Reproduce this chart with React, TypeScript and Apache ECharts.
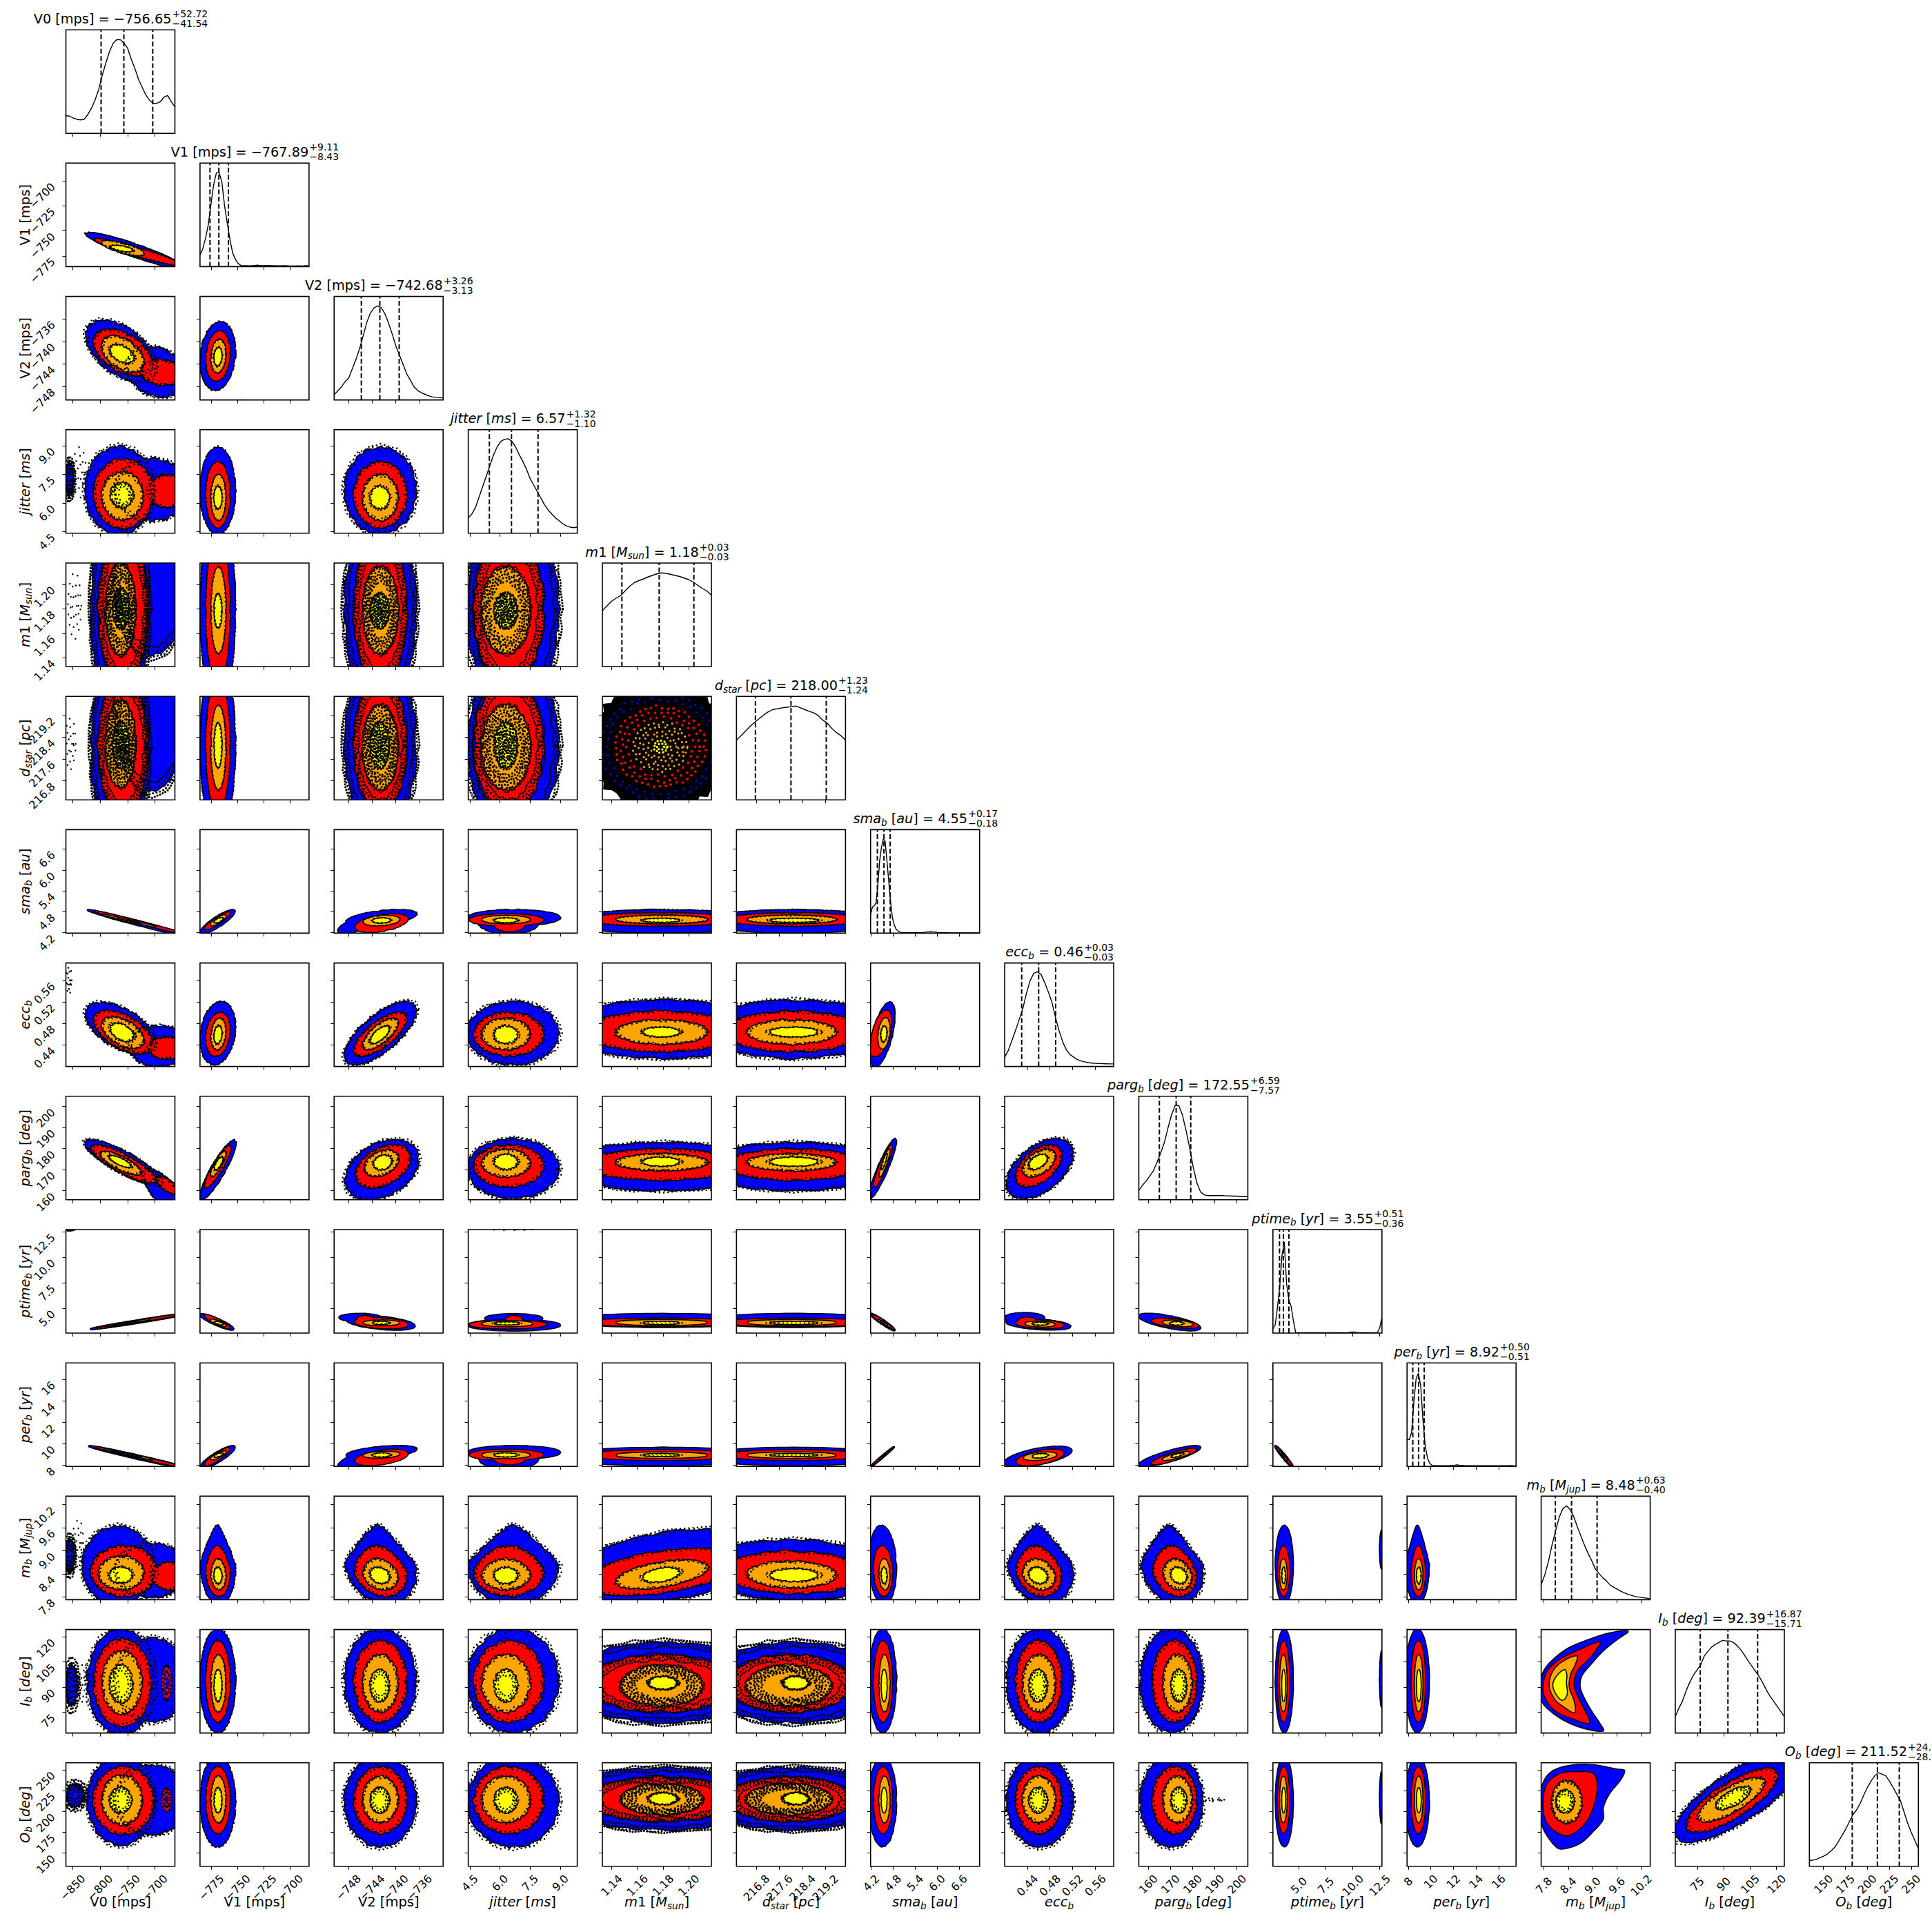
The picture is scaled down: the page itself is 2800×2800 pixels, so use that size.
import React, { useEffect, useRef } from "react";
import * as echarts from "echarts";

// ---------- axes ----------
const rangeV0 = [-862.4, -663.5];
const rangeV1 = [-785.8, -682.2];
const rangeV2 = [-750.4, -732];
const rangeJitter = [4.42, 9.84];
const rangeM1 = [1.1328, 1.2176];
const rangeDstar = [216.1, 219.9];
const rangeSma = [4.185, 7.16];
const rangeEcc = [0.4, 0.5926];
const rangeParg = [155.7, 204.9];
const rangePtime = [2.58, 12.7];
const rangePer = [7.9, 17.55];
const rangeMb = [7.73, 10.42];
const rangeI = [62.5, 124.4];
const rangeO = [134, 258.3];
const ranges = [rangeV0, rangeV1, rangeV2, rangeJitter, rangeM1, rangeDstar, rangeSma, rangeEcc, rangeParg, rangePtime, rangePer, rangeMb, rangeI, rangeO];

const ticksV0 = [-850, -800, -750, -700];
const ticksV1 = [-775, -750, -725, -700];
const ticksV2 = [-748, -744, -740, -736];
const ticksJitter = [4.5, 6, 7.5, 9];
const ticksM1 = [1.14, 1.16, 1.18, 1.2];
const ticksDstar = [216.8, 217.6, 218.4, 219.2];
const ticksSma = [4.2, 4.8, 5.4, 6, 6.6];
const ticksEcc = [0.44, 0.48, 0.52, 0.56];
const ticksParg = [160, 170, 180, 190, 200];
const ticksPtime = [5, 7.5, 10, 12.5];
const ticksPer = [8, 10, 12, 14, 16];
const ticksMb = [7.8, 8.4, 9, 9.6, 10.2];
const ticksI = [75, 90, 105, 120];
const ticksO = [150, 175, 200, 225, 250];
const ticks = [ticksV0, ticksV1, ticksV2, ticksJitter, ticksM1, ticksDstar, ticksSma, ticksEcc, ticksParg, ticksPtime, ticksPer, ticksMb, ticksI, ticksO];
const tickDecimals = [0, 0, 0, 1, 2, 1, 1, 2, 0, 1, 0, 1, 0, 0];

// ---------- names and quoted results ----------
const nameTokens: [string, string][][] = [
  [["V0 [mps]", "n"]],
  [["V1 [mps]", "n"]],
  [["V2 [mps]", "n"]],
  [["jitter", "i"], [" [", "n"], ["ms", "i"], ["]", "n"]],
  [["m", "i"], ["1 [", "n"], ["M", "i"], ["sun", "s"], ["]", "n"]],
  [["d", "i"], ["star", "s"], [" [", "n"], ["pc", "i"], ["]", "n"]],
  [["sma", "i"], ["b", "s"], [" [", "n"], ["au", "i"], ["]", "n"]],
  [["ecc", "i"], ["b", "s"]],
  [["parg", "i"], ["b", "s"], [" [", "n"], ["deg", "i"], ["]", "n"]],
  [["ptime", "i"], ["b", "s"], [" [", "n"], ["yr", "i"], ["]", "n"]],
  [["per", "i"], ["b", "s"], [" [", "n"], ["yr", "i"], ["]", "n"]],
  [["m", "i"], ["b", "s"], [" [", "n"], ["M", "i"], ["jup", "s"], ["]", "n"]],
  [["I", "i"], ["b", "s"], [" [", "n"], ["deg", "i"], ["]", "n"]],
  [["O", "i"], ["b", "s"], [" [", "n"], ["deg", "i"], ["]", "n"]],
];
const medianText = ["−756.65", "−767.89", "−742.68", "6.57", "1.18", "218.00", "4.55", "0.46", "172.55", "3.55", "8.92", "8.48", "92.39", "211.52"];
const plusText = ["+52.72", "+9.11", "+3.26", "+1.32", "+0.03", "+1.23", "+0.17", "+0.03", "+6.59", "+0.51", "+0.50", "+0.63", "+16.87", "+24.94"];
const minusText = ["−41.54", "−8.43", "−3.13", "−1.10", "−0.03", "−1.24", "−0.18", "−0.03", "−7.57", "−0.36", "−0.51", "−0.40", "−15.71", "−28.67"];
const q16 = [-798.19, -776.32, -745.81, 5.47, 1.148, 216.76, 4.37, 0.43, 164.98, 3.19, 8.41, 8.08, 76.68, 182.85];
const q50 = [-756.65, -767.89, -742.68, 6.57, 1.177, 218.0, 4.55, 0.46, 172.55, 3.55, 8.92, 8.48, 92.39, 211.52];
const q84 = [-703.93, -758.78, -739.42, 7.89, 1.204, 219.23, 4.72, 0.49, 179.14, 4.06, 9.42, 9.11, 109.26, 236.46];

// ---------- marginal histograms, evenly spaced across each axis ----------
const histV0 = [.17, .166, .148, .135, .13, .135, .18, .24, .32, .42, .56, .68, .79, .87, .905, .905, .87, .82, .715, .625, .52, .445, .37, .32, .29, .29, .305, .35, .365, .305, .255];
const histV1 = [.115, .17, .27, .4, .6, .79, .905, .91, .82, .59, .42, .26, .13, .07, .03, .012, .01, .009, .008, .01, .012, .014, .012, .01, .012, .012, .01, .009, .008, .008, .008, .009, .008, .007, .006, .006, .008, .007, .008, .01, .008];
const histV2 = [.05, .087, .125, .176, .21, .3, .39, .495, .62, .75, .84, .89, .908, .89, .83, .74, .635, .52, .43, .34, .25, .19, .125, .09, .07, .054, .04, .03, .025, .023, .018];
const histJitter = [.148, .186, .25, .352, .454, .556, .658, .76, .837, .888, .908, .913, .888, .837, .76, .696, .62, .53, .467, .403, .34, .275, .224, .186, .148, .122, .092, .071, .059, .054, .059];
const histM1 = [.54, .585, .63, .66, .685, .73, .775, .81, .83, .845, .865, .88, .895, .905, .9, .892, .88, .87, .855, .84, .815, .785, .755, .73, .69];
const histDstar = [.578, .62, .665, .71, .75, .785, .82, .85, .873, .88, .889, .895, .9, .907, .89, .873, .855, .84, .815, .77, .74, .69, .65, .62, .578];
const histSma = [.18, .25, .265, .29, .46, .7, .83, .91, .89, .7, .5, .3, .15, .08, .04, .022, .012, .005, .004, .004, .004, .004, .004, .004, .004, .004, .004, .004, .004, .004, .01, .011, .012, .014, .012, .01, .01, .004, .004, .004, .004, .004, .004, .003, .003, .003, .003, .003, .003, .003, .003, .003, .003, .003, .003, .003, .003, .003, .003, .003, .003];
const histEcc = [.09, .155, .25, .35, .455, .56, .71, .83, .9, .915, .89, .81, .72, .62, .47, .34, .235, .16, .115, .09, .067, .053, .045, .037, .032, .03, .028, .027, .026, .025, .025];
const histParg = [.09, .14, .18, .23, .28, .36, .45, .55, .69, .82, .91, .91, .82, .67, .5, .31, .16, .075, .048, .04, .04, .04, .04, .04, .038, .037, .035, .035, .03, .03, .03];
const histPtime = [.04, .08, .25, .45, .75, .88, .48, .32, .26, .12, .005, .004, .003, .003, .003, .003, .003, .003, .003, .003, .003, .003, .003, .003, .003, .003, .003, .003, .003, .003, .003, .003, .003, .004, .008, .01, .01, .005, .003, .003, .003, .003, .003, .003, .003, .004, .006, .05, .15];
const histPer = [.26, .26, .33, .62, .85, .9, .78, .45, .2, .08, .03, .01, .006, .006, .006, .006, .006, .006, .006, .008, .01, .012, .015, .012, .01, .008, .006, .006, .006, .006, .006, .006, .006, .006, .006, .006, .006, .006, .006, .006, .006, .006, .006, .006, .006, .006, .008, .005, .005];
const histMb = [.145, .24, .37, .53, .67, .8, .88, .908, .87, .8, .7, .61, .52, .44, .37, .29, .25, .21, .18, .14, .12, .1, .08, .065, .05, .04, .03, .025, .02, .015, .01];
const histI = [.16, .24, .31, .41, .49, .56, .61, .66, .745, .79, .83, .855, .875, .895, .89, .89, .875, .845, .805, .755, .7, .65, .6, .55, .49, .42, .36, .31, .26, .21, .16];
const histO = [.055, .06, .07, .085, .1, .12, .15, .185, .24, .3, .36, .43, .5, .545, .61, .69, .765, .825, .875, .905, .89, .875, .825, .765, .7, .64, .53, .42, .33, .25, .17];
const hists = [histV0, histV1, histV2, histJitter, histM1, histDstar, histSma, histEcc, histParg, histPtime, histPer, histMb, histI, histO];

// ---------- contour extents read per parameter, [blue, red, orange, yellow] as [low, high] ----------
const extV0 = [[-822, -701], [-811, -705], [-796, -724], [-781, -743]];
const extV1 = [[-785.3, -752.5], [-780, -757.5], [-775, -761.6], [-772, -765.4]];
const extV2 = [[-748.6, -736.6], [-747, -738.2], [-745.5, -739.7], [-744.2, -741.2]];
const extJitter = [[4.4, 8.9], [4.73, 8.14], [5.12, 7.47], [5.75, 6.83]];
const extM1 = [[1.1, 1.26], [1.12, 1.238], [1.144, 1.214], [1.165, 1.192]];
const extDstar = [[214.9, 221.3], [215.7, 220.5], [216.5, 219.55], [217.3, 218.9]];
const extSma = [[4.15, 4.88], [4.28, 4.77], [4.43, 4.7], [4.49, 4.62]];
const extEcc = [[0.404, 0.52], [0.42, 0.5], [0.432, 0.489], [0.444, 0.474]];
const extParg = [[156.5, 184.5], [162, 181.6], [166.8, 179.5], [170.5, 177]];
const extPtime = [[2.84, 4.43], [3.05, 4.1], [3.25, 3.85], [3.45, 3.7]];
const extPer = [[7.8, 9.83], [8.3, 9.5], [8.6, 9.26], [8.78, 9.1]];
const extMb = [[7.62, 9.65], [7.83, 9.12], [8.0, 8.78], [8.17, 8.55]];
const extI = [[63, 124.5], [69.4, 117.4], [75.5, 109], [81.7, 100]];
const extO = [[158, 266], [174, 253], [187, 241.6], [199, 227.8]];
const extents = [extV0, extV1, extV2, extJitter, extM1, extDstar, extSma, extEcc, extParg, extPtime, extPer, extMb, extI, extO];

// correlation of each lower-triangle panel, row by row
const corr = [
  [],
  [-.93],
  [-.45, .15],
  [0, 0, 0],
  [0, 0, 0, 0],
  [0, 0, 0, 0, 0],
  [-.987, .88, .55, 0, 0, 0],
  [-.55, .2, .72, 0, 0, 0, .5],
  [-.85, .9, .35, 0, 0, 0, .92, .5],
  [.985, -.9, -.45, 0, 0, 0, -.96, -.4, -.7],
  [-.987, .88, .55, 0, 0, 0, .995, .55, .85, -.97],
  [0, -.08, -.2, 0, .35, 0, -.1, -.2, -.2, 0, 0],
  [0, 0, 0, 0, 0, 0, 0, 0, 0, 0, 0, 0],
  [0, 0, 0, 0, 0, 0, 0, 0, 0, 0, 0, -.1, .75],
];

// panel-specific contours: [level, xLow, xHigh, yLow, yHigh, correlation]; null means the parameter's own extent
const panelBlobs: Record<string, (number | null)[][]> = {
  "1,0": [[0, -825, -650, -787, -752, -.93], [1, -810, -655, -784, -758, -.95], [2, -796, -721, -774.5, -760, -.75], [3, -779, -742, -770.5, -765, -.6]],
  "2,0": [[0, -825, -700, -747, -736.3, -.5], [0, -750, -645, -749.8, -741, -.2], [1, -811, -707, -746, -737.9, -.45], [1, -725, -651, -747.7, -743.3, -.1], [2, -796, -721, -745.4, -739.1, -.45], [3, -780.4, -740, -743.7, -740.7, -.45]],
  "3,0": [[0, -827, -704, 4.39, 8.94, 0], [0, -770, -640, 5.1, 8.3, 0], [1, -811, -704, 4.7, 8.3, 0], [1, -712, -640, 5.8, 7.46, 0], [2, -796, -722.6, 5.15, 7.6, 0], [3, -780, -740.6, 5.8, 7.04, 0]],
  "4,0": [[0, -816, -711, 1.09, 1.27, 0], [0, -770, -640, 1.143, 1.26, 0], [1, -803, -713, 1.12, 1.24, 0], [2, -789, -736, 1.143, 1.2165, 0], [3, -776, -748, 1.165, 1.196, 0]],
  "5,0": [[0, -816, -711, 214.5, 221.5, 0], [0, -770, -640, 216.45, 222.5, 0], [1, -803, -713, 215.6, 220.5, 0], [2, -789, -736, 216.6, 219.7, 0], [3, -776, -748, 217.3, 218.93, 0]],
  "6,0": [[0, -822, -640, 4.1, 4.85, -.987], [1, -810, -655, 4.2, 4.82, -.995], [2, -795, -700, 4.37, 4.72, -.998], [3, -780, -730, 4.47, 4.62, -.999]],
  "7,0": [[0, -825.6, -701, .4247, .5185, -.55], [0, -745, -640, .4, .475, 0], [1, -810.5, -704.6, .4247, .5037, -.55], [1, -712, -645, .4148, .4543, 0], [2, -796, -721, .4346, .4914, -.5], [3, -780, -740, .448, .479, -.45]],
  "8,0": [[0, -827, -690, 163, 184.1, -.85], [0, -720, -650, 150, 170, -.7], [1, -815, -700, 164, 181.6, -.85], [1, -697, -657, 158.4, 166.6, -.7], [2, -799, -726, 167.8, 178.5, -.8], [3, -781.7, -745.6, 171.4, 176.4, -.8]],
  "9,0": [[0, -817, -640, 2.96, 4.5, .985], [1, -806, -655, 3.03, 4.4, .995], [2, -790, -710, 3.21, 3.93, .998], [3, -775, -735, 3.34, 3.7, .999]],
  "10,0": [[0, -820, -640, 7.7, 9.8, -.987], [1, -808, -655, 7.9, 9.7, -.995], [2, -792, -705, 8.55, 9.5, -.998], [3, -775, -730, 8.8, 9.3, -.999]],
  "11,0": [[0, -832, -704, 7.6, 9.63, 0], [0, -770, -640, 7.8, 9.18, 0], [1, -816, -697, 7.83, 9.12, 0], [1, -705, -640, 8, 8.7, 0], [2, -802, -721, 8, 8.85, 0], [3, -781.7, -743, 8.18, 8.56, 0]],
  "12,0": [[0, -822.5, -700, 62, 124.5, 0], [0, -770, -640, 69.4, 119, 0], [1, -811, -708, 66.7, 118.5, 0], [2, -795.5, -725, 74.2, 111.3, 0], [3, -781.5, -742, 81, 102.8, 0]],
  "13,0": [[0, -822.5, -701, 160, 266, 0], [0, -770, -640, 172.7, 255, 0], [1, -812, -703, 172.7, 253, 0], [2, -796, -724, 184.6, 243, 0], [3, -781.5, -744, 199, 227.8, 0]],
  "6,1": [[0, -785.5, -752.8, 4.17, 4.85, .88], [1, -781, -757.7, 4.3, 4.78, .9], [2, -775.4, -761.5, 4.41, 4.7, .85], [3, -771.6, -764.5, 4.49, 4.62, .7]],
  "6,2": [[0, -748.3, -736.5, 4.41, 4.85, .5], [0, -749.7, -742.6, 4.18, 4.72, .7], [1, -746.8, -738, 4.22, 4.73, .45], [2, -745.4, -739.4, 4.41, 4.68, .25], [3, -743.8, -741, 4.49, 4.61, .1]],
  "6,3": [[0, 4.42, 8.98, 4.41, 4.85, 0], [0, 4.97, 7.9, 4.18, 4.75, 0], [1, 4.5, 8.14, 4.4, 4.73, 0], [1, 5.75, 7.2, 4.24, 4.6, 0], [2, 5.12, 7.47, 4.47, 4.68, 0], [3, 5.75, 6.83, 4.5, 4.61, 0]],
  "6,4": [[0, null, null, 4.2, 4.85, 0], [1, null, null, 4.4, 4.76, 0], [2, null, null, 4.47, 4.69, 0], [3, null, null, 4.51, 4.6, 0]],
  "6,5": [[0, null, null, 4.2, 4.85, 0], [1, null, null, 4.4, 4.76, 0], [2, null, null, 4.47, 4.69, 0], [3, null, null, 4.51, 4.6, 0]],
  "7,4": [[0, null, null, .416, .523, 0], [1, null, null, .428, .502, 0], [2, null, null, .442, .486, 0], [3, null, null, .456, .472, 0]],
  "7,5": [[0, null, null, .416, .523, 0], [1, null, null, .428, .502, 0], [2, null, null, .442, .486, 0], [3, null, null, .456, .472, 0]],
  "8,1": [[0, -785.5, -752, 156, 183.8, .9], [1, -781, -756.6, 161.6, 181.3, .9], [2, -775.4, -761.5, 167, 178.5, .85], [3, -771.6, -764.5, 170.3, 175.6, .75]],
  "8,2": [[0, -748.5, -736.2, 155.9, 184.1, .35], [1, -746.7, -737.6, 161.6, 181.6, .4], [2, -745.2, -739.6, 167, 179.1, .35], [3, -743.6, -740.8, 170.3, 176.6, .2]],
  "8,4": [[0, null, null, 160.2, 182.8, 0], [1, null, null, 165.2, 179.7, 0], [2, null, null, 169.7, 177.4, 0], [3, null, null, 171.9, 175.7, 0]],
  "8,5": [[0, null, null, 160.2, 182.8, 0], [1, null, null, 165.2, 179.7, 0], [2, null, null, 169.7, 177.4, 0], [3, null, null, 171.9, 175.7, 0]],
  "9,1": [[0, -785.5, -754, 2.91, 4.43, -.9], [1, -781, -758, 3.03, 4.35, -.9], [2, -775.4, -761.5, 3.25, 3.9, -.85], [3, -771.6, -764.5, 3.42, 3.7, -.7]],
  "9,2": [[0, -748.3, -736.8, 2.91, 4.25, -.45], [0, -749.5, -742.6, 3.74, 4.46, 0], [1, -746.9, -738, 3.04, 4.05, -.3], [1, -746.5, -743.8, 3.6, 4.25, 0], [2, -745.4, -739.4, 3.35, 3.81, 0], [3, -743.8, -741.2, 3.47, 3.69, 0]],
  "9,3": [[0, 4.42, 8.98, 2.83, 3.87, 0], [0, 5.26, 8.1, 3.6, 4.43, 0], [1, 4.5, 8.3, 3.04, 3.81, 0], [1, 6.3, 7.1, 3.5, 4.25, 0], [2, 5.12, 7.6, 3.25, 3.75, 0], [3, 5.75, 6.95, 3.42, 3.64, 0]],
  "9,4": [[0, null, null, 3.18, 4.45, 0], [1, null, null, 3.25, 4, 0], [2, null, null, 3.37, 3.85, 0], [3, null, null, 3.47, 3.68, 0]],
  "9,5": [[0, null, null, 3.18, 4.45, 0], [1, null, null, 3.25, 4, 0], [2, null, null, 3.37, 3.85, 0], [3, null, null, 3.47, 3.68, 0]],
  "9,6": [[0, 4.185, 4.84, 2.85, 4.47, -.96], [1, 4.25, 4.8, 3, 4.3, -.97], [2, 4.4, 4.72, 3.2, 3.85, -.98], [3, 4.48, 4.62, 3.4, 3.7, -.99]],
  "9,7": [[0, .403, .516, 2.92, 3.96, -.4], [0, .4, .47, 3.6, 4.54, 0], [1, .42, .504, 3.06, 3.85, -.3], [1, .425, .455, 3.5, 4.1, 0], [2, .437, .488, 3.22, 3.7, -.2], [3, .45, .475, 3.4, 3.6, 0]],
  "9,8": [[0, 155.7, 183.4, 2.85, 4.47, -.7], [1, 161.6, 182.4, 3.1, 4, -.55], [2, 166.6, 180, 3.25, 3.8, -.4], [3, 170, 175.5, 3.4, 3.65, 0]],
  "10,1": [[0, -785.5, -752.8, 7.7, 9.8, .88], [1, -781, -757.7, 8, 9.6, .9], [2, -775.4, -761.5, 8.55, 9.3, .85], [3, -771.6, -764.5, 8.8, 9.12, .7]],
  "10,2": [[0, -748.3, -736.5, 8.65, 9.8, .5], [0, -749.7, -742.6, 7.7, 9.38, .7], [1, -746.8, -738, 8.03, 9.46, .45], [2, -745.4, -739.4, 8.72, 9.26, .25], [3, -743.8, -741, 8.82, 9.11, .1]],
  "10,3": [[0, 4.42, 8.98, 8.6, 9.8, 0], [0, 4.97, 7.9, 7.7, 9.5, 0], [1, 4.5, 8.14, 8.5, 9.46, 0], [1, 5.75, 7.2, 8.1, 9, 0], [2, 5.12, 7.47, 8.67, 9.26, 0], [3, 5.75, 6.83, 8.82, 9.11, 0]],
  "10,4": [[0, null, null, 8, 9.64, 0], [1, null, null, 8.5, 9.41, 0], [2, null, null, 8.7, 9.2, 0], [3, null, null, 8.87, 9.05, 0]],
  "10,5": [[0, null, null, 8, 9.64, 0], [1, null, null, 8.5, 9.41, 0], [2, null, null, 8.7, 9.2, 0], [3, null, null, 8.87, 9.05, 0]],
  "10,6": [[0, 4.18, 4.82, 7.85, 9.7, .995], [1, 4.25, 4.75, 8.1, 9.5, .997], [2, 4.42, 4.68, 8.55, 9.25, .998], [3, 4.5, 4.6, 8.8, 9.05, .999]],
  "10,7": [[0, .4, .518, 7.9, 9.74, .6], [1, .421, .504, 8, 9.47, .55], [2, .434, .491, 8.5, 9.2, .4], [3, .45, .475, 8.72, 9.05, .3]],
  "10,8": [[0, 155.7, 183.4, 7.9, 9.8, .85], [1, 161.6, 181.5, 8.1, 9.55, .88], [2, 166.6, 178.5, 8.5, 9.25, .85], [3, 170.5, 175.5, 8.78, 9.1, .8]],
  "10,9": [[0, 2.8, 4.45, 7.8, 9.8, -.97], [1, 3, 4.3, 8, 9.6, -.985], [2, 3.2, 3.9, 8.5, 9.3, -.99], [3, 3.4, 3.7, 8.8, 9.1, -.99]],
  "7,6": [[0, 4.185, 4.84, .4, .5192, .6], [0, 4.1, 4.4, .405, .46, 0], [1, 4.2, 4.75, .42, .5041, .5], [1, 4.15, 4.4, .42, .445, 0], [2, 4.4, 4.7, .4335, .4897, .3], [3, 4.48, 4.62, .4473, .4738, .2]],
  "11,4": [[0, null, null, 7.6, 9.55, .42], [1, null, null, 7.85, 9.05, .45], [2, null, null, 8.02, 8.75, .5], [3, null, null, 8.2, 8.55, .4]],
  "11,5": [[0, null, null, 7.72, 9.28, -.05], [1, null, null, 7.9, 8.98, -.05], [2, null, null, 8.05, 8.72, -.05], [3, null, null, 8.22, 8.52, 0]],
  "12,4": [[0, null, null, 69, 116.5, 0], [1, 1.122, 1.236, 75.2, 109, 0], [2, 1.148, 1.21, 79, 102.7, 0], [3, 1.17, 1.19, 89, 95.9, 0]],
  "12,5": [[0, null, null, 69, 116.5, 0], [1, 215.8, 220.1, 75.2, 109, 0], [2, 216.48, 219.37, 79, 102.7, 0], [3, 217.77, 218.57, 89, 95.9, 0]],
  "13,4": [[0, null, null, 178, 252, 0], [1, 1.122, 1.236, 188.3, 240.9, 0], [2, 1.148, 1.21, 196.5, 232.6, 0], [3, 1.17, 1.19, 209, 221.5, 0]],
  "13,5": [[0, null, null, 178, 252, 0], [1, 215.8, 220.1, 188.3, 240.9, 0], [2, 216.48, 219.37, 196.5, 232.6, 0], [3, 217.77, 218.57, 209, 221.5, 0]],
  "13,11": [[2, 8, 8.72, 186.5, 236, 0], [3, 8.11, 8.53, 199, 225, 0]],
  "13,12": [[0, 62, 134, 163.6, 272, .78], [1, 69.2, 120.3, 175.5, 251, .78], [2, 75.7, 112.8, 188, 240, .78], [3, 85.9, 104.6, 203, 229, .7]],
  "12,11": [],
};
// additional pieces on top of a panel's default contours
const extraBlobs: Record<string, number[][]> = {
  "11,9": [[0, 12.52, 12.9, 8.53, 9.54, 0]],
  "12,9": [[0, 12.52, 12.9, 78, 111.5, 0]],
  "13,9": [[0, 12.52, 12.9, 185, 247.8, 0]],
};
// outlined polygons through [x, y] values, one list per level
const crescentBlue = [[9.86, 123.3], [9.4, 121.9], [8.87, 117.8], [8.41, 113.1], [8.03, 106.2], [7.8, 99.4], [7.72, 91.2], [7.73, 83], [7.88, 77.6], [8.26, 70.8], [8.72, 66], [9.25, 63.9], [9.17, 68], [8.98, 74.9], [8.79, 83], [8.68, 89.9], [8.72, 96.7], [8.94, 103.5], [9.25, 111.7], [9.63, 119.2]];
const crescentRed = [[9.17, 116.7], [8.64, 111.7], [8.18, 106.2], [7.89, 99.4], [7.79, 91.2], [7.82, 84.4], [8.07, 76.2], [8.49, 71.4], [8.91, 68.7], [8.79, 76.2], [8.62, 84.4], [8.53, 91.2], [8.6, 99.4], [8.87, 106.2], [9.06, 111.7]];
const crescentOrange = [[8.6, 108.3], [8.26, 104.9], [8.03, 99.4], [7.94, 91.2], [8.07, 83], [8.3, 78.3], [8.55, 74.9], [8.53, 81.7], [8.41, 89.9], [8.45, 98], [8.56, 103.5]];
const crescentYellow = [[8.3, 100.1], [8.11, 96], [8.03, 91.2], [8.11, 85.8], [8.26, 82.4], [8.36, 85.8], [8.34, 92.6], [8.35, 97.4]];
const teardropBlue = [[9.63, 249.9], [9.78, 248.5], [9.67, 237.5], [9.4, 220.9], [9.25, 204.4], [9.25, 190.6], [9.02, 176.9], [8.72, 163.1], [8.37, 156.2], [8.15, 156.2], [7.92, 168.6], [7.77, 182.4], [7.72, 204.4], [7.77, 232], [8.03, 248.5], [8.56, 255.4], [9.02, 255.4]];
const teardropRed = [[9.02, 244.4], [9.1, 226.4], [8.98, 201.7], [8.79, 185.1], [8.41, 171.4], [8.07, 176.9], [7.84, 190.6], [7.79, 212.7], [7.88, 232], [8.18, 244.4], [8.64, 247.1]];
const panelPolygons: Record<string, [number, number[][]][]> = {
  "12,11": [[0, crescentBlue], [1, crescentRed], [2, crescentOrange], [3, crescentYellow]],
  "13,11": [[0, teardropBlue], [1, teardropRed]],
};
// scattered samples: [xLow, xHigh, yLow, yHigh, kind] with kind 0 sparse, 1 dense with blue beneath, 2 red speckle
const panelClouds: Record<string, number[][]> = {
  "3,0": [[-866, -846, 6.2, 8.3, 1], [-850, -825, 6.3, 8.9, 0]],
  "4,0": [[-858, -835, 1.155, 1.21, 0]],
  "5,0": [[-864, -845, 217.2, 219.1, 0]],
  "7,0": [[-862, -852, .535, .585, 0]],
  "9,0": [[-866, -848, 12.6, 12.8, 1]],
  "9,3": [[5.6, 7.6, 12.66, 12.76, 0]],
  "11,0": [[-866, -845, 8.35, 9.4, 1], [-850, -830, 8.6, 9.8, 0]],
  "12,0": [[-866, -838, 76, 106, 1], [-838, -820, 80, 104, 0], [-686, -671, 83, 102, 2]],
  "13,0": [[-866, -825, 202, 236, 1], [-686, -671, 201.7, 226.4, 2]],
  "13,8": [[186, 194, 212, 216, 0]],
};
// the m1 against d_star panel is speckle throughout: centre and half-widths of the cloud
const speckleCloud = [1.178, 218.05, 0.056, 2.35];
const speckleRings: [string, number[], number, number][] = [
  ["#0000ff", [.82, .74], 11, 3],
  ["#ff0000", [.62, .54, .46], 9, 3.6],
  ["#ffa500", [.37, .3, .23, .16], 8, 3],
  ["#ffff00", [.09, .05], 7, 3.2],
];
// how widely each parameter spreads its samples across its panels; sets the contour edge noise
const spreadByParam = [.7, .3, .7, .8, 1, 1, .2, .6, .6, .05, .05, .6, .8, .7];
const teardropCols = [1, 2, 3, 7, 8, 10];
// fixed table of small edge displacements
const edgeRoughness = [.6, -.8, .2, .9, -.4, -1, .5, .1, -.6, .8, -.2, 1, -.9, .3, -.5, .7, -.1, -.7, .9, .4, -1, .2, .6, -.3, .8, -.9, .1, .5, -.6, 1, -.2, -.8, .3, .7, -.4, .9, -.7, .2, -1, .6, .4];

const levelColors = ["#0000ff", "#ff0000", "#ffa500", "#ffff00"];
const FONT = "DejaVu Sans";
const X0 = 95.5, XSTEP = 194.37, W = 158;
const Y0 = 43.2, YSTEP = 193.2, H = 150;
const N = 14;
const LABEL_SIZE = 19.5, TITLE_SIZE = 19.3, SUP_SIZE = 14, TICK_SIZE = 16;

const cvs = document.createElement("canvas").getContext("2d") as CanvasRenderingContext2D;
const measure = (text: string, size: number, italic = false) => {
  cvs.font = `${italic ? "italic " : ""}${size}px "${FONT}"`;
  return cvs.measureText(text).width;
};
const tokensWidth = (tokens: [string, string][], size: number) =>
  tokens.reduce((a, [t, k]) => a + measure(t, k === "s" ? size * 0.7 : size, k !== "n"), 0);
const richOf = (size: number) => ({
  n: { fontFamily: FONT, fontSize: size, fill: "#000" },
  i: { fontFamily: FONT, fontSize: size, fontStyle: "italic", fill: "#000" },
  s: { fontFamily: FONT, fontSize: size * 0.7, fontStyle: "italic", fill: "#000", padding: [size * 0.55, 0, 0, 0] },
});
const richText = (tokens: [string, string][]) => tokens.map(([t, k]) => `{${k}|${t}}`).join("");
const tickText = (p: number, v: number) => v.toFixed(tickDecimals[p]).replace("-", "−");

type Blob = { lvl: number; xlo: number; xhi: number; ylo: number; yhi: number; rho: number; taper?: number };
const ellipse = (b: Blob, scale = 1) => {
  const pts: number[][] = [];
  const cx = (b.xlo + b.xhi) / 2, cy = (b.ylo + b.yhi) / 2, rx = (b.xhi - b.xlo) / 2, ry = (b.yhi - b.ylo) / 2;
  const q = Math.sqrt(1 - b.rho * b.rho);
  for (let k = 0; k < 72; k++) {
    const t = (2 * Math.PI * k) / 72;
    const sy = b.rho * Math.cos(t) + q * Math.sin(t);
    const narrow = 1 - (b.taper || 0) * Math.max(0, sy);
    pts.push([cx + rx * scale * Math.cos(t) * narrow, cy + ry * scale * sy]);
  }
  return pts;
};

function blobsFor(r: number, c: number): Blob[] {
  const key = `${r},${c}`;
  const rho = corr[r][c] ?? 0;
  let out: Blob[];
  if (panelBlobs[key]) {
    out = panelBlobs[key].map((b) => {
      const lvl = b[0] as number;
      return {
        lvl,
        xlo: (b[1] ?? extents[c][lvl][0]) as number,
        xhi: (b[2] ?? extents[c][lvl][1]) as number,
        ylo: (b[3] ?? extents[r][lvl][0]) as number,
        yhi: (b[4] ?? extents[r][lvl][1]) as number,
        rho: (b[5] ?? rho) as number,
      };
    });
  } else {
    out = [0, 1, 2, 3].map((lvl) => ({ lvl, xlo: extents[c][lvl][0], xhi: extents[c][lvl][1], ylo: extents[r][lvl][0], yhi: extents[r][lvl][1], rho }));
    if (r === 11 && teardropCols.includes(c)) {
      out[0] = { ...out[0], taper: 0.62 };
      out[1] = { ...out[1], taper: 0.25 };
      out[2] = { ...out[2], taper: 0.12 };
    }
  }
  (extraBlobs[key] || []).forEach((b) => out.push({ lvl: b[0], xlo: b[1], xhi: b[2], ylo: b[3], yhi: b[4], rho: b[5] }));
  return out;
}

type Item = { pts: number[][]; fill: string; stroke?: string; lw?: number; dash?: number[]; amp: number; seed: number; smooth?: number };

const dotScales = (n: number, lvl: number, smallCore: boolean): number[] => {
  if (smallCore && lvl === 3) return [1.2];
  if (n >= 2) {
    if (lvl === 3) return [1.08, .95, .82, .68, .54, .4, .26, .12];
    if (lvl === 2) return [1.05, .98, .9, .82, .74, .66];
    if (lvl === 1) return [1.04, .97, .9, .83];
    return [1.08, 1.04, .97, .9];
  }
  if (n >= 1) {
    if (lvl === 3) return [1.08, .9, .7];
    if (lvl === 0) return [1.07, 1.03, .96];
    return [1.05, .96];
  }
  return n >= 0.5 ? [1.03] : [];
};

function panelItems(r: number, c: number): Item[] {
  const items: Item[] = [];
  if (r === 5 && c === 4) {
    const [cx, cy, rx, ry] = speckleCloud;
    const base: Blob = { lvl: 0, xlo: cx - rx, xhi: cx + rx, ylo: cy - ry, yhi: cy + ry, rho: 0 };
    items.push({ pts: ellipse(base), fill: "#000", amp: 5, seed: 3 });
    speckleRings.forEach(([color, scales, gap, lw], i) =>
      scales.forEach((s, j) => items.push({ pts: ellipse(base, s), fill: "none", stroke: color, lw, dash: [0.2, gap + j], amp: 2.5, seed: i + j }))
    );
    return items;
  }
  const key = `${r},${c}`;
  const n = spreadByParam[r] * spreadByParam[c] * 3;
  const blobs = blobsFor(r, c);
  const polys = panelPolygons[key] || [];
  const amp = n < 0.2 ? 0.3 : Math.min(2.4, 0.4 + n * 0.75);
  for (let lvl = 0; lvl < 4; lvl++) {
    const here = blobs.filter((b) => b.lvl === lvl);
    const hereP = polys.filter((p) => p[0] === lvl);
    const seed = lvl * 13 + r * 5 + c * 3;
    here.forEach((b) => items.push({ pts: ellipse(b), fill: "#000", stroke: "#000", lw: 3.2, amp, seed }));
    hereP.forEach(([, pts]) => items.push({ pts, fill: "#000", stroke: "#000", lw: 3.2, amp: 0, seed, smooth: 0.35 }));
    here.forEach((b) => items.push({ pts: ellipse(b), fill: levelColors[lvl], amp, seed }));
    hereP.forEach(([, pts]) => items.push({ pts, fill: levelColors[lvl], amp: 0, seed, smooth: 0.35 }));
  }
  blobs.forEach((b) => {
    const smallCore = (b.yhi - b.ylo) / (ranges[r][1] - ranges[r][0]) < 0.2;
    dotScales(n, b.lvl, smallCore).forEach((s, j) =>
      items.push({ pts: ellipse(b, s), fill: "none", stroke: "#000", lw: n >= 2 ? 3 : 2.4, dash: [0.2, n >= 2 ? 4 + (j % 3) : 6 + j], amp, seed: b.lvl + j * 7 })
    );
  });
  (panelClouds[key] || []).forEach(([xlo, xhi, ylo, yhi, kind], i) => {
    const b: Blob = { lvl: 0, xlo, xhi, ylo, yhi, rho: 0 };
    if (kind === 1) items.push({ pts: ellipse(b, 0.8), fill: "#0000ff", stroke: "#000", lw: 2, amp: 2, seed: i });
    const rings = kind === 0 ? [1, 0.66, 0.33] : [1.1, 0.9, 0.7, 0.5, 0.3];
    rings.forEach((s, j) =>
      items.push({ pts: ellipse(b, s), fill: "none", stroke: kind === 2 && j % 2 ? "#ff0000" : "#000", lw: kind === 0 ? 2.4 : 3, dash: [0.2, kind === 0 ? 15 + j : 4 + j], amp: 1.5, seed: i + j })
    );
  });
  return items;
}

function buildOption() {
  const grid: any[] = [], xAxis: any[] = [], yAxis: any[] = [], series: any[] = [], graphic: any[] = [];
  let idx = 0;
  for (let r = 0; r < N; r++) {
    for (let c = 0; c <= r; c++) {
      const left = X0 + c * XSTEP, top = Y0 + r * YSTEP;
      grid.push({ left, top, width: W, height: H, show: false });
      const bottomRow = r === N - 1;
      const longest = Math.max(...ticks[c].map((v) => measure(tickText(c, v), TICK_SIZE)));
      xAxis.push({
        type: "value", gridIndex: idx, min: ranges[c][0], max: ranges[c][1],
        axisLine: { show: false }, splitLine: { show: false },
        axisTick: { show: true, length: 5, customValues: ticks[c], lineStyle: { color: "#000", width: 1 } },
        axisLabel: {
          show: bottomRow, customValues: ticks[c], rotate: 45, align: "center", verticalAlign: "middle",
          margin: 11 + ((longest + 0.73 * TICK_SIZE) * 0.707) / 2, hideOverlap: false,
          fontFamily: FONT, fontSize: TICK_SIZE, color: "#000",
          formatter: (v: number) => tickText(c, v),
        },
      });
      if (r === c) {
        yAxis.push({ type: "value", gridIndex: idx, min: 0, max: 1, show: false });
        const values = hists[c];
        const [a, b] = ranges[c];
        series.push({
          type: "line", xAxisIndex: idx, yAxisIndex: idx, showSymbol: false, silent: true, z: 3,
          lineStyle: { color: "#000", width: 1.4 },
          data: values.map((y, k) => [a + (k / (values.length - 1)) * (b - a), y]),
        });
        [q16[c], q50[c], q84[c]].forEach((q) =>
          series.push({
            type: "line", xAxisIndex: idx, yAxisIndex: idx, showSymbol: false, silent: true, z: 4,
            lineStyle: { color: "#000", width: 2, type: [7, 3.5] },
            data: [[q, 0], [q, 1]],
          })
        );
      } else {
        yAxis.push({
          type: "value", gridIndex: idx, min: ranges[r][0], max: ranges[r][1],
          axisLine: { show: false }, splitLine: { show: false },
          axisTick: { show: true, length: 5, customValues: ticks[r], lineStyle: { color: "#000", width: 1 } },
          axisLabel: {
            show: c === 0, customValues: ticks[r], rotate: 45, align: "right", verticalAlign: "top",
            margin: 24, hideOverlap: false, fontFamily: FONT, fontSize: TICK_SIZE, color: "#000",
            formatter: (v: number) => tickText(r, v),
          },
        });
        const items = panelItems(r, c);
        series.push({
          type: "custom", xAxisIndex: idx, yAxisIndex: idx, clip: true, silent: true, z: 2,
          data: items.map((it) => it.pts[0]),
          renderItem: (params: any, api: any) => {
            const it = items[params.dataIndex];
            let pts: number[][] = it.pts.map((p) => api.coord(p));
            if (it.amp > 0) {
              const mx = pts.reduce((s, p) => s + p[0], 0) / pts.length;
              const my = pts.reduce((s, p) => s + p[1], 0) / pts.length;
              pts = pts.map((p, k) => {
                const dx = p[0] - mx, dy = p[1] - my, d = Math.hypot(dx, dy) || 1;
                const w = edgeRoughness[(k * 7 + it.seed) % edgeRoughness.length] * Math.min(it.amp, 0.12 * d);
                return [p[0] + (dx / d) * w, p[1] + (dy / d) * w];
              });
            }
            return {
              type: "polygon",
              shape: { points: pts, smooth: it.smooth || 0 },
              style: { fill: it.fill, stroke: it.stroke || "none", lineWidth: it.lw || 0, lineDash: it.dash, lineCap: it.dash ? "round" : "butt", lineJoin: "round" },
            };
          },
        });
      }
      graphic.push({ type: "rect", silent: true, z: 50, shape: { x: left, y: top, width: W, height: H }, style: { fill: "none", stroke: "#000", lineWidth: 1.6 } });
      idx++;
    }
  }
  for (let p = 0; p < N; p++) {
    const cx = X0 + p * XSTEP + W / 2;
    const cy = Y0 + p * YSTEP + H / 2;
    // x-axis label under the bottom row
    graphic.push({
      type: "text", silent: true, z: 60, x: cx, y: Y0 + (N - 1) * YSTEP + H + 52,
      style: { text: richText(nameTokens[p]), rich: richOf(LABEL_SIZE), font: `${LABEL_SIZE}px "${FONT}"`, align: "center", verticalAlign: "middle", fill: "#000" },
    });
    if (p > 0) {
      // y-axis label beside the first column
      graphic.push({
        type: "text", silent: true, z: 60, x: 36, y: cy, rotation: Math.PI / 2,
        style: { text: richText(nameTokens[p]), rich: richOf(LABEL_SIZE), font: `${LABEL_SIZE}px "${FONT}"`, align: "center", verticalAlign: "middle", fill: "#000" },
      });
    }
    // title: name = median with stacked errors
    const tokens: [string, string][] = [...nameTokens[p], [` = ${medianText[p]}`, "n"]];
    const mw = tokensWidth(tokens, TITLE_SIZE);
    const sw = Math.max(measure(plusText[p], SUP_SIZE), measure(minusText[p], SUP_SIZE));
    const joint = cx - (mw + sw) / 2 + mw;
    const ty = Y0 + p * YSTEP - 16;
    graphic.push({
      type: "text", silent: true, z: 60, x: joint, y: ty,
      style: { text: richText(tokens), rich: richOf(TITLE_SIZE), font: `${TITLE_SIZE}px "${FONT}"`, align: "right", verticalAlign: "middle", fill: "#000" },
    });
    graphic.push({
      type: "text", silent: true, z: 60, x: joint + 1, y: ty - 7,
      style: { text: plusText[p], font: `${SUP_SIZE}px "${FONT}"`, align: "left", verticalAlign: "middle", fill: "#000" },
    });
    graphic.push({
      type: "text", silent: true, z: 60, x: joint + 1, y: ty + 7,
      style: { text: minusText[p], font: `${SUP_SIZE}px "${FONT}"`, align: "left", verticalAlign: "middle", fill: "#000" },
    });
  }
  return { animation: false, backgroundColor: "#fff", grid, xAxis, yAxis, series, graphic };
}

export default function App() {
  const ref = useRef<HTMLDivElement>(null);
  useEffect(() => {
    const chart = echarts.init(ref.current as HTMLDivElement, undefined, { renderer: "svg" });
    chart.setOption(buildOption());
    return () => chart.dispose();
  }, []);
  return <div ref={ref} style={{ position: "absolute", left: 0, top: 0, width: 2800, height: 2800 }} />;
}
